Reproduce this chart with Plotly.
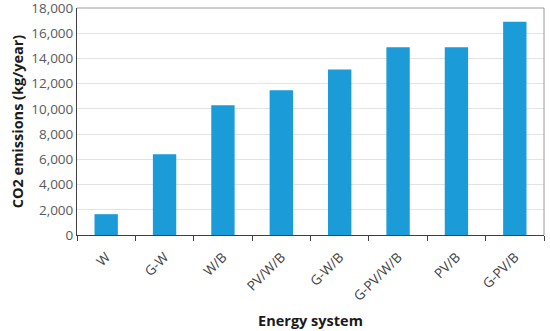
import plotly.graph_objects as go

categories = ["W", "G-W", "W/B", "PV/W/B", "G-W/B", "G-PV/W/B", "PV/B", "G-PV/B"]
emissions = [1650, 6400, 10280, 11480, 13130, 14880, 14880, 16900]
y_ticks = [0, 2000, 4000, 6000, 8000, 10000, 12000, 14000, 16000, 18000]

fig = go.Figure(go.Bar(x=categories, y=emissions, marker=dict(color="#1b9bd7", line=dict(width=0)),
                       width=0.4, hoverinfo="skip"))

font = "Open Sans, Noto Sans, sans-serif"
fig.update_layout(
    width=550, height=331,
    margin=dict(l=77, r=6, t=8, b=96),
    plot_bgcolor="white", paper_bgcolor="white",
    showlegend=False,
    font=dict(family=font, color="#595959", size=13),
)
fig.update_xaxes(
    type="category", tickangle=-45, tickfont=dict(size=13.5, color="#404040"),
    showline=True, linecolor="#404040", linewidth=1,
    ticks="outside", tickson="boundaries", ticklen=5, tickcolor="#404040",
    ticklabelstandoff=8,
    showgrid=False, automargin=False,
    title=dict(text="<b>Energy system</b>", font=dict(size=14.5, color="#1a1a1a"), standoff=12),
)
fig.update_yaxes(
    range=[0, 18000], tickvals=y_ticks, tickformat=",",
    tickfont=dict(size=13.5, color="#595959"), ticklabeloverflow="allow",
    showline=True, linecolor="#404040", linewidth=1,
    gridcolor="#e3e3e3", gridwidth=1, zeroline=False,
    ticks="", ticklen=0, automargin=False,
    title=dict(text="<b>CO2 emissions (kg/year)</b>", font=dict(size=14.5, color="#1a1a1a"), standoff=4),
)
# light frame on top and right
fig.add_shape(type="line", xref="paper", yref="paper", x0=0, x1=1, y0=1, y1=1,
              line=dict(color="#9a9a9a", width=1))
fig.add_shape(type="line", xref="paper", yref="paper", x0=1, x1=1, y0=0, y1=1,
              line=dict(color="#9a9a9a", width=1))

fig.write_html("out.html", config={"displayModeBar": False},
               post_script="document.body.style.margin='0';")
